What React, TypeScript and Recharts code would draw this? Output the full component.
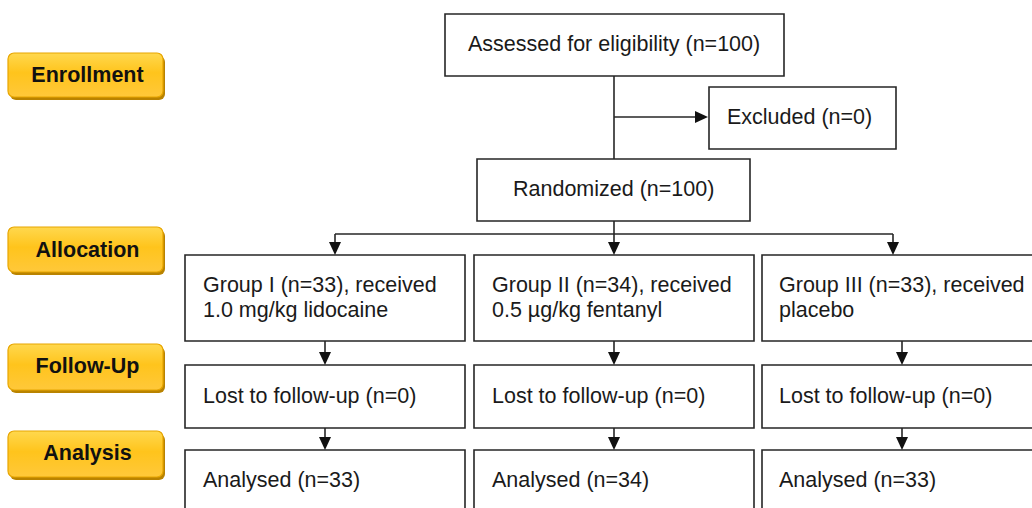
import React from 'react';
import { ScatterChart, Scatter, XAxis, YAxis, ReferenceArea, ReferenceLine } from 'recharts';

// ---- data ----
const stages = ['Enrollment', 'Allocation', 'Follow-Up', 'Analysis'];
const assessedN = 100;
const excludedN = 0;
const randomizedN = 100;
const groupNames = ['Group I', 'Group II', 'Group III'];
const groupN = [33, 34, 33];
const treatments = ['1.0 mg/kg lidocaine', '0.5 µg/kg fentanyl', 'placebo'];
const lostN = [0, 0, 0];
const analysedN = [33, 34, 33];

// ---- layout (diagram coordinates, pixel-like units) ----
const W = 1032;
const H = 508;
const FONT = '"Liberation Sans", Arial, Helvetica, sans-serif';
const INK = '#262626';
const SW = 1.6;

const stageX: [number, number] = [8, 163];
const stageTextX = 87.5;
const stageY: [number, number][] = [[53, 97], [227, 272], [344, 390], [431, 477]];
const stageBaseline = [82, 257, 373, 460];

const assessedBox = { x1: 445, x2: 784, y1: 14, y2: 76 };
const excludedBox = { x1: 709, x2: 896, y1: 87, y2: 149 };
const randomizedBox = { x1: 477, x2: 750, y1: 159, y2: 221 };
const colBox: [number, number][] = [[185, 465], [474, 754], [762, 1060]];
const groupRow: [number, number] = [255, 341];
const lostRow: [number, number] = [365, 428];
const analysedRow: [number, number] = [450, 530];
const colText = [203, 492, 779];
const colArrowX = [325, 614, 902];
const branchArrowX = [335, 614, 893];
const trunkX = 614;
const excludeArrowY = 117;
const branchY = 234;

type TextItem = { x: number; y: number; text: string; bold?: boolean; anchor?: string };

const texts: TextItem[] = [
  { x: 468, y: 51, text: `Assessed for eligibility (n=${assessedN})` },
  { x: 727, y: 124, text: `Excluded (n=${excludedN})` },
  { x: 513, y: 196, text: `Randomized (n=${randomizedN})` },
  ...stages.map((s, i) => ({ x: stageTextX, y: stageBaseline[i], text: s, bold: true, anchor: 'middle' })),
  ...groupNames.map((g, i) => ({ x: colText[i], y: 292, text: `${g} (n=${groupN[i]}), received` })),
  ...treatments.map((t, i) => ({ x: colText[i], y: 317, text: t })),
  ...lostN.map((n, i) => ({ x: colText[i], y: 403, text: `Lost to follow-up (n=${n})` })),
  ...analysedN.map((n, i) => ({ x: colText[i], y: 487, text: `Analysed (n=${n})` })),
];

const downArrows = [
  ...branchArrowX.map((x) => ({ x, y: groupRow[0] })),
  ...colArrowX.map((x) => ({ x, y: lostRow[0] })),
  ...colArrowX.map((x) => ({ x, y: analysedRow[0] })),
];
const rightArrows = [{ x: excludedBox.x1 - 1, y: excludeArrowY }];

const boxes = [
  assessedBox,
  excludedBox,
  randomizedBox,
  ...colBox.map(([x1, x2]) => ({ x1, x2, y1: groupRow[0], y2: groupRow[1] })),
  ...colBox.map(([x1, x2]) => ({ x1, x2, y1: lostRow[0], y2: lostRow[1] })),
  ...colBox.map(([x1, x2]) => ({ x1, x2, y1: analysedRow[0], y2: analysedRow[1] })),
];

const segments: { x: number; y: number }[][] = [
  [{ x: trunkX, y: assessedBox.y2 }, { x: trunkX, y: randomizedBox.y1 }],
  [{ x: trunkX, y: excludeArrowY }, { x: excludedBox.x1 - 10, y: excludeArrowY }],
  [{ x: trunkX, y: randomizedBox.y2 }, { x: trunkX, y: groupRow[0] - 10 }],
  [{ x: branchArrowX[0], y: branchY }, { x: branchArrowX[2], y: branchY }],
  [{ x: branchArrowX[0], y: branchY }, { x: branchArrowX[0], y: groupRow[0] - 10 }],
  [{ x: branchArrowX[2], y: branchY }, { x: branchArrowX[2], y: groupRow[0] - 10 }],
  ...colArrowX.map((x) => [{ x, y: groupRow[1] }, { x, y: lostRow[0] - 10 }]),
  ...colArrowX.map((x) => [{ x, y: lostRow[1] }, { x, y: analysedRow[0] - 10 }]),
];

const StageButton = (props: any) => {
  const { x, y, width, height, index } = props;
  const id = `stageGrad${index}`;
  return (
    <g>
      <defs>
        <linearGradient id={id} x1="0" y1="0" x2="0" y2="1">
          <stop offset="0%" stopColor="#FFD84E" />
          <stop offset="45%" stopColor="#FFC41C" />
          <stop offset="100%" stopColor="#FFC83A" />
        </linearGradient>
      </defs>
      <rect x={x + 2} y={y + 3} width={width} height={height} rx={6} ry={6} fill="#B98300" />
      <rect x={x} y={y} width={width} height={height} rx={6} ry={6} fill={`url(#${id})`} stroke="#E8A600" strokeWidth={1.2} />
    </g>
  );
};

const TextShape = (props: any) => {
  const { cx, cy, payload } = props;
  return (
    <text
      x={cx}
      y={cy}
      textAnchor={payload.anchor || 'start'}
      fontFamily={FONT}
      fontSize={21.5}
      fontWeight={payload.bold ? 700 : 400}
      fill={payload.bold ? '#111' : '#1a1a1a'}
    >
      {payload.text}
    </text>
  );
};

const DownArrow = (props: any) => {
  const { cx, cy } = props;
  return <polygon points={`${cx - 6},${cy - 13} ${cx + 6},${cy - 13} ${cx},${cy}`} fill="#111" />;
};

const RightArrow = (props: any) => {
  const { cx, cy } = props;
  return <polygon points={`${cx - 13},${cy - 6} ${cx - 13},${cy + 6} ${cx},${cy}`} fill="#111" />;
};

export default function App() {
  return (
    <div style={{ position: 'absolute', left: 0, top: 0, width: W, height: H, background: '#fff', overflow: 'hidden' }}>
      <ScatterChart width={W} height={H} margin={{ top: 0, right: 0, bottom: 0, left: 0 }}>
        <XAxis type="number" dataKey="x" domain={[0, W]} hide allowDataOverflow />
        <YAxis type="number" dataKey="y" domain={[0, H]} reversed hide allowDataOverflow />
        {stageY.map(([y1, y2], i) => (
          <ReferenceArea
            key={`st${i}`}
            x1={stageX[0]}
            x2={stageX[1]}
            y1={y1}
            y2={y2}
            ifOverflow="visible"
            shape={(p: any) => <StageButton {...p} index={i} />}
          />
        ))}
        {segments.map((s, i) => (
          <ReferenceLine key={`seg${i}`} segment={s} stroke={INK} strokeWidth={SW} ifOverflow="visible" />
        ))}
        {boxes.map((b, i) => (
          <ReferenceArea
            key={`bx${i}`}
            x1={b.x1}
            x2={b.x2}
            y1={b.y1}
            y2={b.y2}
            fill="#fff"
            fillOpacity={1}
            stroke={INK}
            strokeWidth={SW}
            ifOverflow="visible"
          />
        ))}
        <Scatter data={downArrows} shape={DownArrow} isAnimationActive={false} />
        <Scatter data={rightArrows} shape={RightArrow} isAnimationActive={false} />
        <Scatter data={texts} shape={TextShape} isAnimationActive={false} />
      </ScatterChart>
    </div>
  );
}
